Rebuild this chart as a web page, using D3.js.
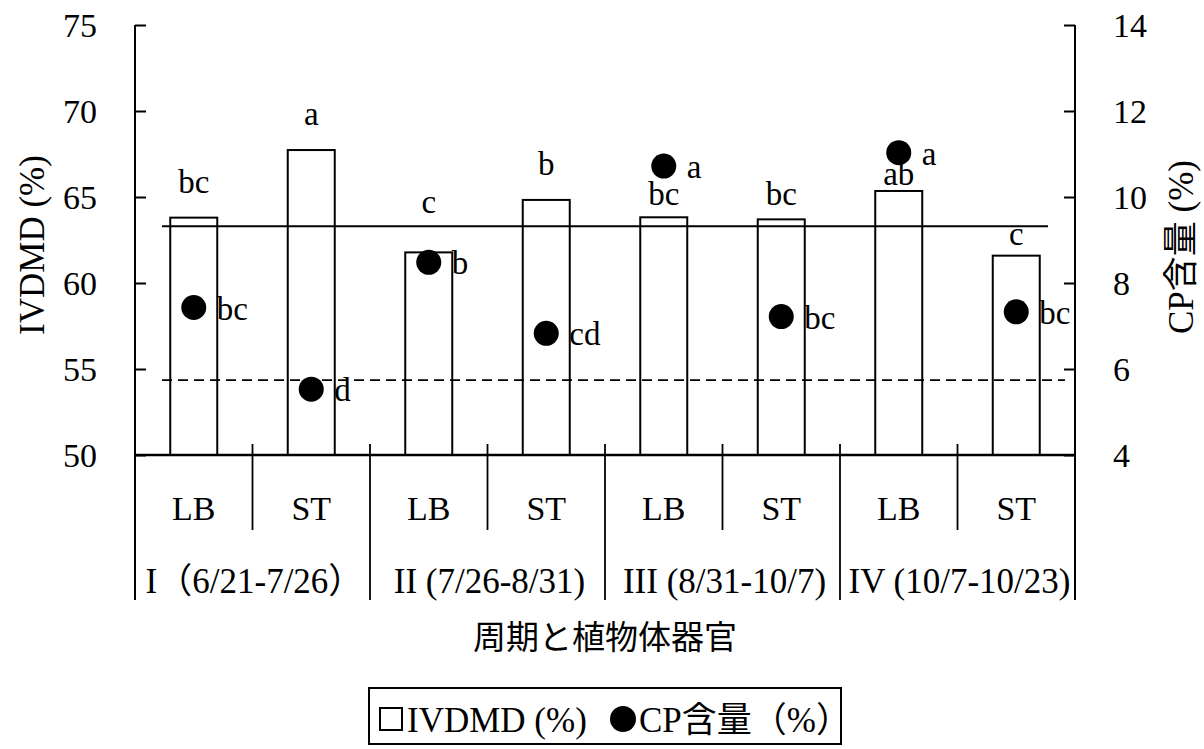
<!DOCTYPE html>
<html>
<head>
<meta charset="utf-8">
<script src="https://cdn.jsdelivr.net/npm/d3@7"></script>
<style>
  html, body { margin: 0; padding: 0; background: #fff; }
  svg { display: block; }
  text { font-family: "Liberation Serif", "Times New Roman", "Noto Sans CJK JP", serif; fill: #000; }
</style>
</head>
<body>
<svg id="chart" width="1204" height="749"></svg>
<script>
// ---- data ----
const categories = ["LB", "ST", "LB", "ST", "LB", "ST", "LB", "ST"];
const periods = ["I（6/21-7/26）", "II (7/26-8/31)", "III (8/31-10/7)", "IV (10/7-10/23)"];
const ivdmd = [63.80, 67.73, 61.78, 64.83, 63.82, 63.70, 65.35, 61.59];
const cp = [7.43, 5.53, 8.48, 6.83, 10.72, 7.22, 11.03, 7.33];
const ivdmdLetters = ["bc", "a", "c", "b", "bc", "bc", "ab", "c"];
const cpLetters = ["bc", "d", "b", "cd", "a", "bc", "a", "bc"];
const leftTicks = [50, 55, 60, 65, 70, 75];
const rightTicks = [4, 6, 8, 10, 12, 14];
const refSolid = 63.3;   // IVDMD reference line
const refDashed = 54.35; // dashed reference line (left axis units)

// label placement (pixels above bar top)
const barLabelLift = [25, 25, 39, 25, 12, 14, 6, 11];

const svg = d3.select("#chart");
const L = 135, R = 1075, T = 25, B = 455;

const x = d3.scaleBand().domain(d3.range(categories.length)).range([L, R]).padding(0);
const yL = d3.scaleLinear().domain([50, 75]).range([B, T]);
const yR = d3.scaleLinear().domain([4, 14]).range([B, T]);
const bw = x.bandwidth() * 0.4;

// bars
svg.append("g").selectAll("rect").data(ivdmd).join("rect")
  .attr("x", (d, i) => x(i) + x.bandwidth() / 2 - bw / 2)
  .attr("y", d => yL(d))
  .attr("width", bw)
  .attr("height", d => yL(50) - yL(d))
  .attr("fill", "#fff").attr("stroke", "#000").attr("stroke-width", 2);

// reference lines
svg.append("line").attr("x1", 162).attr("x2", 1048)
  .attr("y1", yL(refSolid)).attr("y2", yL(refSolid))
  .attr("stroke", "#000").attr("stroke-width", 1.8);
svg.append("line").attr("x1", 162).attr("x2", 1065)
  .attr("y1", yL(refDashed)).attr("y2", yL(refDashed))
  .attr("stroke", "#000").attr("stroke-width", 1.8).attr("stroke-dasharray", "10,6");

// bar letters
svg.append("g").selectAll("text").data(ivdmd).join("text")
  .attr("x", (d, i) => x(i) + x.bandwidth() / 2)
  .attr("y", (d, i) => yL(d) - barLabelLift[i])
  .attr("text-anchor", "middle").attr("font-size", 33)
  .text((d, i) => ivdmdLetters[i]);

// CP dots
svg.append("g").selectAll("circle").data(cp).join("circle")
  .attr("cx", (d, i) => x(i) + x.bandwidth() / 2)
  .attr("cy", d => yR(d))
  .attr("r", 12.5).attr("fill", "#000");
svg.append("g").selectAll("text").data(cp).join("text")
  .attr("x", (d, i) => x(i) + x.bandwidth() / 2 + 23)
  .attr("y", d => yR(d) + 12)
  .attr("font-size", 33)
  .text((d, i) => cpLetters[i]);

// left axis
const gL = svg.append("g").attr("transform", `translate(${L},0)`)
  .call(d3.axisLeft(yL).tickValues(leftTicks).tickSizeInner(-11).tickSizeOuter(0).tickPadding(38));
gL.select(".domain").remove();
gL.selectAll(".tick line").attr("stroke", "#000").attr("stroke-width", 2);
gL.selectAll(".tick text").attr("font-size", 34).attr("font-family", "Liberation Serif").attr("dy", "0.34em");
svg.append("line").attr("x1", L).attr("x2", L).attr("y1", T).attr("y2", 600)
  .attr("stroke", "#000").attr("stroke-width", 2);

// right axis
const gR = svg.append("g").attr("transform", `translate(${R},0)`)
  .call(d3.axisRight(yR).tickValues(rightTicks).tickSizeInner(-11).tickSizeOuter(0).tickPadding(38));
gR.select(".domain").remove();
gR.selectAll(".tick line").attr("stroke", "#000").attr("stroke-width", 2);
gR.selectAll(".tick text").attr("font-size", 34).attr("font-family", "Liberation Serif").attr("dy", "0.34em");
svg.append("line").attr("x1", R).attr("x2", R).attr("y1", T).attr("y2", 600)
  .attr("stroke", "#000").attr("stroke-width", 2);

// x axis line
svg.append("line").attr("x1", L).attr("x2", R).attr("y1", B).attr("y2", B)
  .attr("stroke", "#000").attr("stroke-width", 2.5);

// category separators
const bounds = d3.range(1, categories.length);
svg.append("g").selectAll("line").data(bounds).join("line")
  .attr("x1", i => x(i)).attr("x2", i => x(i))
  .attr("y1", B - 11)
  .attr("y2", i => (i % 2 === 0 ? 600 : 530))
  .attr("stroke", "#000").attr("stroke-width", 1.8);

// category labels
svg.append("g").selectAll("text").data(categories).join("text")
  .attr("x", (d, i) => x(i) + x.bandwidth() / 2)
  .attr("y", 520).attr("text-anchor", "middle").attr("font-size", 34)
  .text(d => d);

// period labels
svg.append("g").selectAll("text").data(periods).join("text")
  .attr("x", (d, i) => (x(i * 2) + x(i * 2 + 1) + x.bandwidth()) / 2 + 2)
  .attr("y", 593).attr("text-anchor", "middle").attr("font-size", 35)
  .text(d => d);

// axis titles
svg.append("text").attr("transform", "translate(44,245) rotate(-90)")
  .attr("text-anchor", "middle").attr("font-size", 35).text("IVDMD (%)");
svg.append("text").attr("transform", "translate(1193,247) rotate(-90)")
  .attr("text-anchor", "middle").attr("font-size", 35).text("CP含量 (%)");
svg.append("text").attr("x", 605).attr("y", 649)
  .attr("text-anchor", "middle").attr("font-size", 33).text("周期と植物体器官");

// legend
const lg = svg.append("g");
lg.append("rect").attr("x", 369).attr("y", 688).attr("width", 472).attr("height", 56)
  .attr("fill", "#fff").attr("stroke", "#000").attr("stroke-width", 2);
lg.append("rect").attr("x", 380).attr("y", 708).attr("width", 22).attr("height", 22)
  .attr("fill", "#fff").attr("stroke", "#000").attr("stroke-width", 2);
lg.append("text").attr("x", 407).attr("y", 732).attr("font-size", 35).text("IVDMD (%)");
lg.append("circle").attr("cx", 623).attr("cy", 719).attr("r", 13).attr("fill", "#000");
lg.append("text").attr("x", 639).attr("y", 732).attr("font-size", 35).text("CP含量（%）");
</script>
</body>
</html>
